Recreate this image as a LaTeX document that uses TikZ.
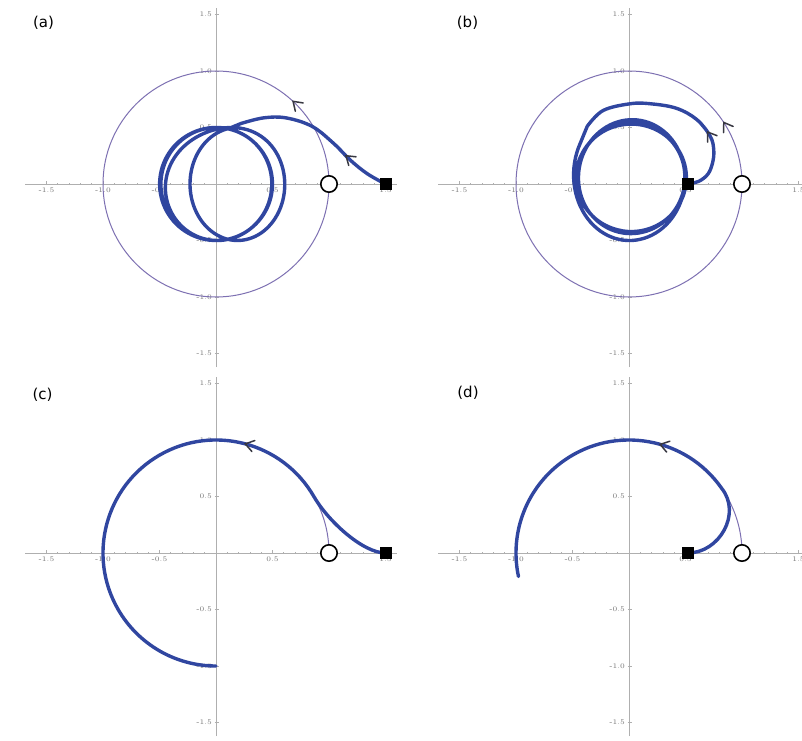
\documentclass[tikz,border=0pt]{standalone}
\usepackage{fontspec}
\newfontfamily\lblfont{DejaVu Sans}
\definecolor{trajblue}{RGB}{48,70,160}
\definecolor{circpurple}{RGB}{125,112,178}
\definecolor{axisgray}{RGB}{175,175,175}
\definecolor{lblgray}{RGB}{115,115,115}
\definecolor{tipgray}{RGB}{55,55,65}
\tikzset{
  axisline/.style={draw=axisgray, line width=0.45pt},
  tickmark/.style={draw=axisgray, line width=0.35pt},
  ticklbl/.style={text=lblgray, font=\fontsize{3.5}{4}\selectfont, inner sep=0.4pt},
  unitcirc/.style={draw=circpurple, line width=0.5pt},
  traj/.style={draw=trajblue, line width=1.7pt, line join=round, line cap=round},
  vtipline/.style={draw=tipgray, line width=0.75pt, line cap=round, line join=miter},
  squaremark/.style={rectangle, fill=black, minimum size=6pt, inner sep=0pt},
  ringmark/.style={circle, draw=black, fill=white, line width=0.8pt, minimum size=8.2pt, inner sep=0pt},
  panellbl/.style={font=\lblfont\fontsize{7.5}{9}\selectfont, inner sep=0pt}
}
% axes with ticks and labels; #1 = prefix for node names, #2 = right end of x axis
\newcommand\plotaxes[2]{%
  \draw[axisline] (-1.69,0) -- (#2,0);
  \draw[axisline] (0,-1.62) -- (0,1.56);
  \foreach \i in {-15,...,-1,1,2,...,15} {
    \draw[tickmark] (\i/10,0) -- (\i/10,0.013);
    \draw[tickmark] (0,\i/10) -- (0.013,\i/10);
  }
  \foreach \v in {-1.5,-1,-0.5,0.5,1,1.5} {
    \draw[tickmark] (\v,-0.01) -- (\v,0.028);
    \draw[tickmark] (-0.01,\v) -- (0.028,\v);
  }
  \foreach \v/\s [count=\k] in {-1.5/-1.5,-1/-1.0,-0.5/-0.5,0.5/0.5,1/1.0,1.5/1.5} {
    \node[ticklbl, anchor=north] (#1x\k) at (\v,-0.025) {\s};
    \node[ticklbl, anchor=east] (#1y\k) at (-0.025,\v) {\s};
  }
}
% open V arrowhead: #1 apex, #2 direction of travel
\newcommand\vtip[2]{\draw[vtipline] (#1) ++(#2+146:0.09) -- (#1) -- ++(#2-146:0.09);}
\begin{document}
\begin{tikzpicture}
\fill[white] (0,0) rectangle (401pt,370pt);
\useasboundingbox (0,0) rectangle (401pt,370pt);

% ---------- (a) ----------
\node[panellbl] (la) at (21.75pt,358.5pt) {(a)};
\begin{scope}[shift={(108pt,278pt)}, x=56.5pt, y=56.5pt]
  \plotaxes{a}{1.6}
  \draw[unitcirc] (0,0) circle[radius=1];
  \draw[traj] plot[smooth, tension=0.6] coordinates {(1.5,0) (1.34,0.09) (1.19,0.21) (1.04,0.36) (0.85,0.51) (0.62,0.585) (0.42,0.585) (0.22,0.535)}
    -- plot[domain=100:1900, samples=460, variable=\t]
      ({0.17/(1+exp(min((\t-470)/25,9))) + 0.02*exp(-max(\t-450,0)/300)
        + (0.5-0.045/(1+exp(min((\t-470)/25,9))) - 0.035*exp(-max(\t-450,0)/300))*cos(\t)},
       {0.5*sin(\t)});
  \vtip{1.15,0.25}{140}
  \vtip{47:1}{137}
  \node[ringmark] (ra) at (1,0) {};
  \node[squaremark] (sa) at (1.5,0) {};
\end{scope}

% ---------- (b) ----------
\node[panellbl] (lb) at (233.75pt,358.5pt) {(b)};
\begin{scope}[shift={(314.5pt,278pt)}, x=56.5pt, y=56.5pt]
  \plotaxes{b}{1.53}
  \draw[unitcirc] (0,0) circle[radius=1];
  \draw[traj] plot[smooth, tension=0.6] coordinates {(0.52,0) (0.62,0.025) (0.7,0.09) (0.74,0.19) (0.75,0.30) (0.72,0.42) (0.6,0.57) (0.42,0.67) (0.19,0.71) (0.01,0.71) (-0.23,0.65) (-0.37,0.51)}
    -- plot[domain=150:1700, samples=360, variable=\t]
      ({0.02+(0.49+0.045*exp(-(\t-180)/120)-0.025*exp(-max(\t-540,0)/350))*cos(\t)},
       {0.055+(0.475+0.08*exp(-(\t-270)/250))*sin(\t)});
  \vtip{0.695,0.46}{125}
  \vtip{33:1}{123}
  \node[ringmark] (rb) at (1,0) {};
  \node[squaremark] (sb) at (0.52,0) {};
\end{scope}

% ---------- (c) ----------
\node[panellbl] (lc) at (21.25pt,172.5pt) {(c)};
\begin{scope}[shift={(108pt,93.5pt)}, x=56.5pt, y=56.5pt]
  \plotaxes{c}{1.6}
  \draw[unitcirc] (1,0) arc[start angle=0, end angle=32, radius=1];
  \draw[traj] (1.5,0) .. controls (1.3,0) and (0.991,0.283) .. (30:1)
    arc[start angle=30, end angle=270, radius=1];
  \vtip{75:1}{165}
  \node[ringmark] (rc) at (1,0) {};
  \node[squaremark] (sc) at (1.5,0) {};
\end{scope}

% ---------- (d) ----------
\node[panellbl] (ld) at (234pt,173.5pt) {(d)};
\begin{scope}[shift={(314.5pt,93.5pt)}, x=56.5pt, y=56.5pt]
  \plotaxes{d}{1.53}
  \draw[unitcirc] (1,0) arc[start angle=0, end angle=37, radius=1];
  \draw[traj] (0.52,0) .. controls (0.8,0) and (1.0,0.35) .. (35:1)
    arc[start angle=35, end angle=192, radius=1];
  \vtip{74:1}{164}
  \node[ringmark] (rd) at (1,0) {};
  \node[squaremark] (sd) at (0.52,0) {};
\end{scope}
\end{tikzpicture}
\end{document}
